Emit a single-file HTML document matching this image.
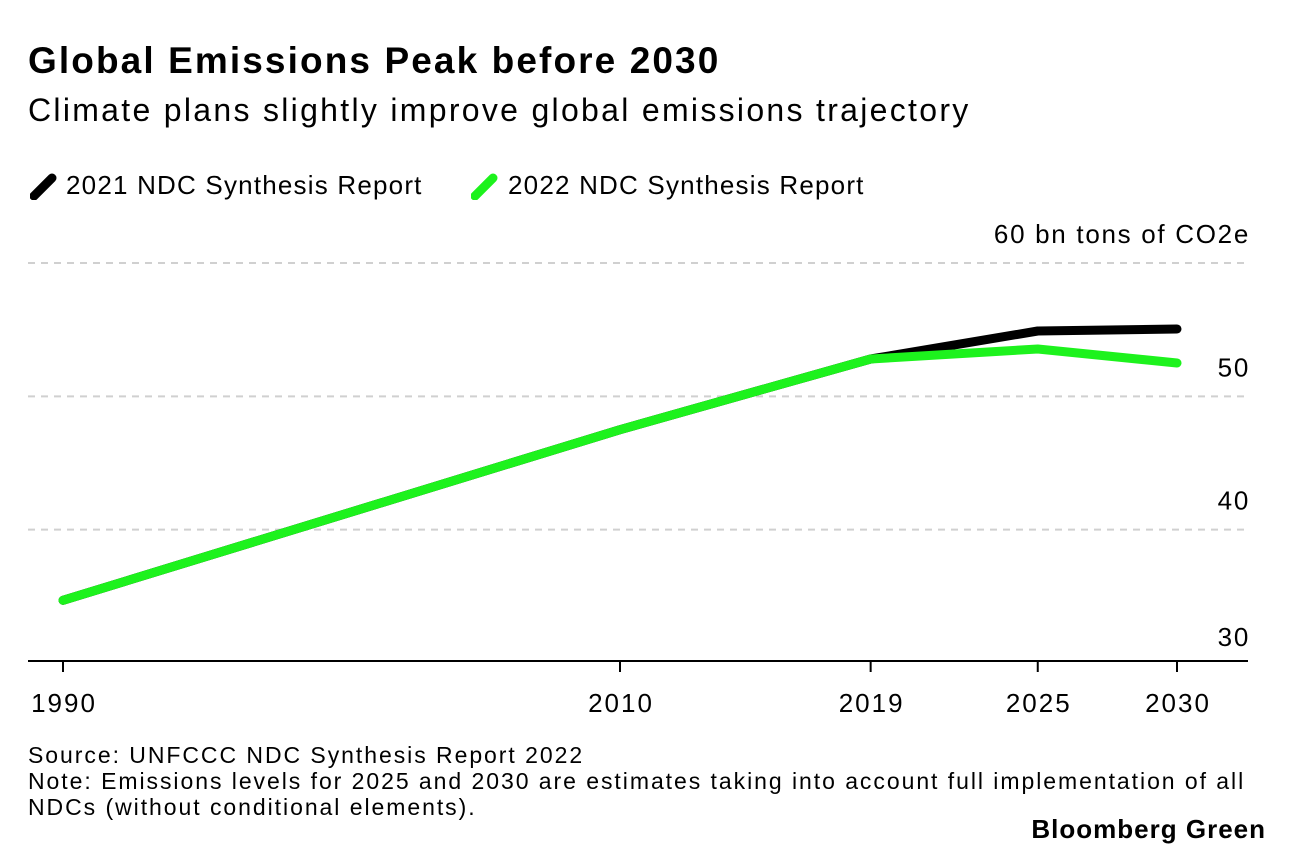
<!DOCTYPE html>
<html><head><meta charset="utf-8"><style>
body{margin:0;background:#fff;font-family:"Liberation Sans",sans-serif;}
#wrap{position:relative;width:1296px;height:858px;overflow:hidden;}
.t{position:absolute;white-space:nowrap;color:#000;}
</style></head><body>
<div id="wrap">
<div class="t" style="left:28px;top:40px;font-size:37px;font-weight:bold;letter-spacing:2.1px">Global Emissions Peak before 2030</div>
<div class="t" style="left:28px;top:92px;font-size:32px;letter-spacing:2.3px">Climate plans slightly improve global emissions trajectory</div>
<div>
<svg style="position:absolute;left:30px;top:172px" width="28" height="28"><line x1="4" y1="24" x2="22" y2="6" stroke="#000" stroke-width="9" stroke-linecap="round"/></svg>
<div class="t" style="left:66px;top:170px;font-size:26px;letter-spacing:1.2px">2021 NDC Synthesis Report</div>
<svg style="position:absolute;left:471px;top:172px" width="28" height="28"><line x1="4" y1="24" x2="22" y2="6" stroke="#1df21d" stroke-width="9" stroke-linecap="round"/></svg>
<div class="t" style="left:508px;top:170px;font-size:26px;letter-spacing:1.2px">2022 NDC Synthesis Report</div>
</div>
<svg id="chart" style="position:absolute;left:0;top:0" width="1296" height="858"></svg>
<div class="t" style="left:28px;top:742px;font-size:23px;line-height:26px;letter-spacing:1.95px">Source: UNFCCC NDC Synthesis Report 2022<br>Note: Emissions levels for 2025 and 2030 are estimates taking into account full implementation of all<br>NDCs (without conditional elements).</div>
<div class="t" style="right:30px;top:814px;font-size:26px;font-weight:bold;letter-spacing:1px">Bloomberg Green</div>
</div>
<script>
const years=[1990,2010,2019,2025,2030];
const series2021=[34.7,47.5,52.8,54.9,55.05];
const series2022=[34.7,47.5,52.8,53.55,52.5];
const yTicks=[30,40,50,60];
const xTickLabels=["1990","2010","2019","2025","2030"];
const NS="http://www.w3.org/2000/svg";
const svg=document.getElementById('chart');
function xs(v){return 63+(v-1990)*(1177-63)/40;}
function ys(v){return 663-(v-30)*400/30;}
function mk(tag,attrs){const e=document.createElementNS(NS,tag);for(const k in attrs)e.setAttribute(k,attrs[k]);svg.appendChild(e);return e;}
yTicks.forEach(v=>{
 if(v>30){const g=mk('line',{x1:28,x2:1248,y1:ys(v),y2:ys(v),stroke:'#d0d0d0','stroke-width':2,'stroke-dasharray':'7,6'});
 
 }
 const t=mk('text',{x:1250,y:ys(v)-20,'text-anchor':'end','font-size':26,'letter-spacing':1.7,'font-family':'Liberation Sans, sans-serif',fill:'#000'});
 t.textContent=v===60?'60 bn tons of CO2e':String(v);
 if(v===30)t.setAttribute('y',ys(v)-17);
 
 
});
const ax=mk('line',{x1:28,x2:1248,y1:661,y2:661,stroke:'#000','stroke-width':2});


years.forEach((y,i)=>{
 const tk=mk('line',{x1:xs(y),x2:xs(y),y1:661,y2:672,stroke:'#000','stroke-width':2});
 
 
 const t=mk('text',{x:xs(y)+1,y:712,'text-anchor':'middle','font-size':26,'letter-spacing':2,'font-family':'Liberation Sans, sans-serif',fill:'#000'});
 t.textContent=xTickLabels[i];
 
 
});
function line(data,color,name){
 const p=mk('polyline',{points:years.map((y,i)=>xs(y)+','+ys(data[i])).join(' '),fill:'none',stroke:color,'stroke-width':9,'stroke-linejoin':'round','stroke-linecap':'round'});
 
 
}
line(series2021,'#000','line-2021-report');
line(series2022,'#1df21d','line-2022-report');
</script>
</body></html>
